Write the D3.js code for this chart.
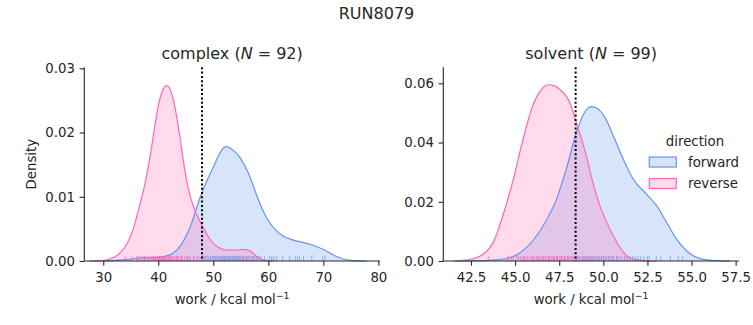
<!DOCTYPE html>
<html><head><meta charset="utf-8">
<script src="https://cdn.jsdelivr.net/npm/d3@7"></script>
<style>body{margin:0;background:#fff} text{font-family:"DejaVu Sans",sans-serif;fill:#262626}</style>
</head><body><svg id="c" width="753" height="325"></svg>
<script>
const suptitle = "RUN8079";
const panelNames = ["complex", "solvent"];
const panelN = [92, 99];
const directions = ["forward", "reverse"];
const colors = ["#6495ED", "#FF69B4"];

// KDE curves: [work, density]
const complexForward = [[27.5,0],[30,0.00002],[32.5,0.0001],[35,0.0003],[37,0.0005],[39,0.0005],[41,0.0007],[42.7,0.0012],[44.2,0.0026],[45.8,0.0053],[47.6,0.0099],[49,0.0128],[50,0.0146],[51,0.0165],[51.7,0.0175],[52.3,0.0178],[53,0.0176],[53.8,0.0171],[54.85,0.0161],[55.8,0.0147],[56.7,0.0130],[57.6,0.0109],[58.5,0.0089],[59.4,0.0072],[60.3,0.0059],[61.5,0.0047],[62.7,0.0039],[64,0.0034],[65.2,0.0031],[67.6,0.0026],[70,0.0018],[72.4,0.0007],[74.9,0.0001],[77.9,0]];
const complexReverse = [[28.5,0],[30.6,0.0002],[33,0.0012],[35.45,0.0050],[36.5,0.0083],[37.7,0.0125],[38.5,0.0162],[39.2,0.0201],[40,0.0242],[40.8,0.0266],[41.5,0.0273],[42.2,0.0266],[42.9,0.0245],[43.9,0.0195],[44.85,0.0140],[45.9,0.0098],[46.8,0.0076],[47.7,0.0060],[48.8,0.0042],[50,0.0027],[51.2,0.0020],[52.4,0.0017],[54,0.0017],[55.5,0.0018],[56.8,0.0015],[57.9,0.0007],[59.5,0.0001],[61,0]];
const solventForward = [[41.5,0],[43,0.0001],[43.75,0.0003],[44.7,0.0011],[45.64,0.0045],[46.58,0.0118],[47.34,0.0208],[47.9,0.031],[48.47,0.0433],[48.95,0.0503],[49.34,0.0521],[49.75,0.0511],[50.1,0.0484],[50.57,0.0422],[51.13,0.0344],[51.7,0.0276],[52.46,0.0225],[53.03,0.0186],[53.6,0.0129],[54.16,0.0073],[54.73,0.0034],[55.48,0.0008],[56.4,0.0001],[57.2,0]];
const solventReverse = [[41.67,0],[42.8,0.0011],[43.75,0.0062],[44.3,0.0152],[44.9,0.0276],[45.45,0.0411],[46.0,0.0524],[46.58,0.0585],[46.87,0.0595],[47.2,0.0592],[47.53,0.058],[48.1,0.0535],[48.47,0.0467],[49.04,0.0355],[49.3,0.029],[49.81,0.0186],[50.38,0.0107],[50.95,0.0045],[51.5,0.0011],[52.25,0.0001],[53,0]];

// rug samples
const complexForwardRug = [36.3,37.5,40.2,43.5,45.6,46.5,47.2,48.0,48.3,48.6,48.9,49.2,49.5,49.8,50.0,50.3,50.5,50.8,51.0,51.2,51.4,51.6,51.8,52.0,52.2,52.3,52.5,52.7,52.9,53.0,53.2,53.4,53.6,53.8,54.0,54.2,54.4,54.6,54.8,55.0,55.3,55.5,55.8,56.0,56.3,56.6,56.9,57.2,57.5,57.9,58.3,58.6,59.3,60.2,60.6,61.0,61.5,62.6,63.9,64.9,65.3,65.7,66.4,67.9,69.9,70.3];
const complexReverseRug = [34.0,35.2,36.1,36.8,37.2,37.6,38.0,38.3,38.5,38.8,39.0,39.2,39.3,39.5,39.6,39.8,39.9,40.1,40.2,40.4,40.5,40.6,40.8,40.9,41.0,41.1,41.2,41.4,41.5,41.6,41.8,41.9,42.0,42.2,42.3,42.5,42.7,42.9,43.0,43.3,43.5,43.6,44.0,44.2,44.4,44.8,45.1,45.3,45.8,46.4,47.0,47.6,48.5,50.2,52.0,53.5,54.6,55.4,56.3,57.2,58.0];
const solventForwardRug = [44.6,45.5,46.0,46.3,46.6,46.9,47.2,47.4,47.6,47.8,48.0,48.2,48.35,48.5,48.65,48.8,48.9,49.0,49.1,49.2,49.3,49.4,49.5,49.6,49.7,49.8,49.9,50.0,50.1,50.2,50.3,50.4,50.5,50.6,50.75,50.9,51.05,51.2,51.35,51.5,51.65,51.8,51.95,52.1,52.3,52.5,52.6,53.0,53.25,53.8,54.25,54.5];
const solventReverseRug = [43.5,44.6,44.8,44.9,45.1,45.2,45.3,45.4,45.5,45.6,45.7,45.8,45.9,46.0,46.1,46.2,46.3,46.35,46.45,46.5,46.6,46.65,46.75,46.8,46.9,46.95,47.05,47.1,47.2,47.25,47.35,47.4,47.5,47.55,47.65,47.7,47.8,47.85,47.95,48.0,48.1,48.2,48.3,48.4,48.5,48.6,48.75,48.9,49.05,49.2,49.35,49.5,49.7,49.9,50.1,50.3,50.55,50.8,51.3];

const complexXTicks = [30,40,50,60,70,80];
const complexYTicks = [0,0.01,0.02,0.03];
const solventXTicks = [42.5,45,47.5,50,52.5,55,57.5];
const solventYTicks = [0,0.02,0.04,0.06];
const freeEnergy = [47.95, 48.43];

const panels = [
  {name: panelNames[0], n: panelN[0], curves: [complexForward, complexReverse], rugs: [complexForwardRug, complexReverseRug],
   xTicks: complexXTicks, yTicks: complexYTicks, xFmt: d3.format(".0f"), line: freeEnergy[0],
   left: 84.3, right: 380, xDomain: [26.55, 80.3], yMax: 0.03016, ylabel: true},
  {name: panelNames[1], n: panelN[1], curves: [solventForward, solventReverse], rugs: [solventForwardRug, solventReverseRug],
   xTicks: solventXTicks, yTicks: solventYTicks, xFmt: d3.format(".1f"), line: freeEnergy[1],
   left: 443.3, right: 739, xDomain: [40.93, 57.69], yMax: 0.0654, ylabel: false}
];
const plotTop = 67.3, plotBottom = 261;
const svg = d3.select("#c");
const ink = "#262626";

svg.append("text").attr("x", 376.5).attr("y", 19).attr("text-anchor", "middle")
  .style("font-size", "16px").text(suptitle);

panels.forEach(p => {
  const x = d3.scaleLinear().domain(p.xDomain).range([p.left, p.right]);
  const y = d3.scaleLinear().domain([0, p.yMax]).range([plotBottom, plotTop]);
  const g = svg.append("g");
  const area = d3.area().x(d => x(d[0])).y0(y(0)).y1(d => y(d[1])).curve(d3.curveMonotoneX);
  const line = d3.line().x(d => x(d[0])).y(d => y(d[1])).curve(d3.curveMonotoneX);
  p.curves.forEach((c, i) => {
    g.append("path").datum(c).attr("d", area).attr("fill", colors[i]).attr("fill-opacity", 0.25);
  });
  p.curves.forEach((c, i) => {
    g.append("path").datum(c).attr("d", line).attr("fill", "none").attr("stroke", colors[i]).attr("stroke-width", 1.2);
  });
  const rugH = (plotBottom - plotTop) * 0.026;
  p.rugs.forEach((r, i) => {
    g.selectAll(null).data(r).enter().append("line")
      .attr("x1", d => x(d)).attr("x2", d => x(d))
      .attr("y1", plotBottom).attr("y2", plotBottom - rugH)
      .attr("stroke", colors[i]).attr("stroke-opacity", 0.65).attr("stroke-width", 1);
  });
  g.append("line").attr("x1", x(p.line)).attr("x2", x(p.line)).attr("y1", plotTop).attr("y2", plotBottom)
    .attr("stroke", "#000").attr("stroke-width", 2).attr("stroke-dasharray", "2,2.3");

  // axes
  const xa = g.append("g").attr("transform", `translate(0,${plotBottom})`)
    .call(d3.axisBottom(x).tickValues(p.xTicks).tickFormat(p.xFmt).tickSize(4.7).tickPadding(7.3));
  const ya = g.append("g").attr("transform", `translate(${p.left},0)`)
    .call(d3.axisLeft(y).tickValues(p.yTicks).tickFormat(d3.format(".2f")).tickSize(4.7).tickPadding(4.7));
  [xa, ya].forEach(a => {
    a.select(".domain").attr("stroke", ink).attr("stroke-width", 1.1);
    a.selectAll(".tick line").attr("stroke", ink).attr("stroke-width", 1.1);
    a.selectAll("text").style("font-size", "13.3px").style("font-family", '"DejaVu Sans"').attr("fill", ink);
  });
  xa.select(".domain").attr("d", `M${p.left},0H${p.right}`);
  ya.select(".domain").attr("d", `M0,${plotBottom}V${plotTop}`);

  const cx = (p.left + p.right) / 2;
  const t = svg.append("text").attr("x", cx).attr("y", 59).attr("text-anchor", "middle").style("font-size", "16px");
  t.append("tspan").text(p.name + " (");
  t.append("tspan").style("font-style", "italic").text("N");
  t.append("tspan").text(" = " + p.n + ")");

  const xl = svg.append("text").attr("x", cx).attr("y", 304).attr("text-anchor", "middle").style("font-size", "13.3px");
  xl.append("tspan").text("work / kcal mol");
  xl.append("tspan").attr("dy", -5).style("font-size", "9.4px").text("\u22121");

  if (p.ylabel) {
    svg.append("text").attr("transform", `translate(35.5,${(plotTop + plotBottom) / 2}) rotate(-90)`)
      .attr("text-anchor", "middle").style("font-size", "13.3px").text("Density");
  }
});

// legend
const lg = svg.append("g");
lg.append("text").attr("x", 695).attr("y", 146).attr("text-anchor", "middle").style("font-size", "13.3px").text("direction");
directions.forEach((d, i) => {
  const yy = 157 + i * 21.5;
  lg.append("rect").attr("x", 649.3).attr("y", yy).attr("width", 27).attr("height", 10)
    .attr("fill", colors[i]).attr("fill-opacity", 0.25).attr("stroke", colors[i]).attr("stroke-width", 1.2);
  lg.append("text").attr("x", 688).attr("y", yy + 9.8).style("font-size", "13.3px").text(d);
});
</script></body></html>
